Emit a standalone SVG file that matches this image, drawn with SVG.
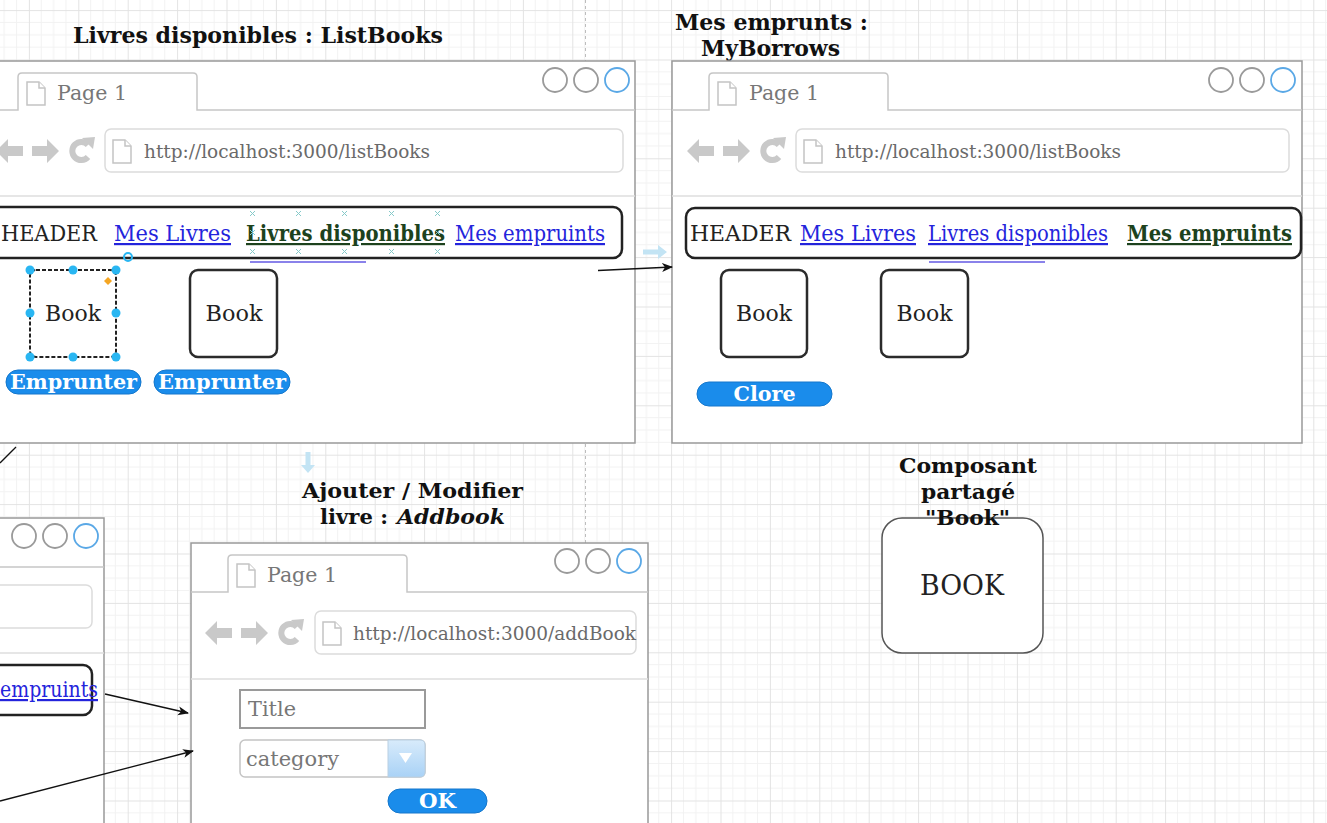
<svg xmlns="http://www.w3.org/2000/svg" xmlns:xlink="http://www.w3.org/1999/xlink" width="1327" height="823" viewBox="0 0 1327 823">
<style>
text{font-family:"DejaVu Serif","Liberation Serif",serif;}
.win{fill:#fff;stroke:#999;stroke-width:1.5;}
.tab{fill:none;stroke:#c6c6c6;stroke-width:1.5;}
.sep{stroke:#dedede;stroke-width:1.5;}
.urlbox{fill:#fff;stroke:#dcdcdc;stroke-width:1.5;}
.doc{fill:#fff;stroke:#c4c4c4;stroke-width:1.5;}
.c{fill:#fff;stroke:#9a9a9a;stroke-width:1.8;}
.cb{fill:#fff;stroke:#5aa8e6;stroke-width:1.8;}
.nav{fill:#c9c9c9;}
.pg{font-size:21px;fill:#777;}
.url{font-size:18.5px;fill:#6a6a6a;}
.hdr{fill:none;stroke:#222;stroke-width:2.5;}
.ht{font-size:22px;fill:#222;}
.lk{font-size:22px;fill:#2424dc;text-decoration:underline;}
.lka{font-size:22px;fill:#1d421d;font-weight:bold;text-decoration:underline;}
.book{fill:#fff;stroke:#2b2b2b;stroke-width:2.5;}
.bt{font-size:23px;fill:#222;text-anchor:middle;}
.btn{fill:#1a8ceb;stroke:#1477cc;stroke-width:1;}
.btnt{font-size:21px;fill:#fff;font-weight:bold;text-anchor:middle;}
.ttl{font-size:22px;fill:#111;font-weight:bold;}
.ttc{font-size:21px;fill:#111;font-weight:bold;text-anchor:middle;}
.edge{fill:none;stroke:#111;stroke-width:1.3;}
.ghost{stroke:#8a82ea;stroke-width:2;}
.xm{stroke:#86c9c9;stroke-width:1;}
.hd{fill:#29b6f2;}
</style>
<defs>
<pattern id="grid" patternUnits="userSpaceOnUse" x="28.9" y="10.1" width="49.4" height="49.4">
<path d="M12.35,0V49.4M24.7,0V49.4M37.05,0V49.4M0,12.35H49.4M0,24.7H49.4M0,37.05H49.4" stroke="#f2f2f2" stroke-width="1" fill="none"/>
<path d="M0.5,0V49.4M0,0.5H49.4" stroke="#e3e3e3" stroke-width="1" fill="none"/>
</pattern>
<marker id="arr" markerWidth="11" markerHeight="10" refX="10" refY="5" orient="auto" markerUnits="userSpaceOnUse">
<path d="M0,0.5L11,5L0,9.5L3,5Z" fill="#111"/>
</marker>
<g id="navicons">
<path class="nav" d="M0,0L12,-12V-5H27V5H12V12Z"/>
<path class="nav" d="M63,0L51,-12V-5H36V5H51V12Z"/>
<path d="M92,6A9,9 0 1 1 92,-6" fill="none" stroke="#c9c9c9" stroke-width="6"/>
<path class="nav" d="M86,-13L99,-14L97,-2Z"/>
</g>
<g id="docicon">
<path class="doc" d="M0,0H12L18,6V23H0Z"/>
<path class="doc" d="M12,0V6H18"/>
</g>
<linearGradient id="dd" x1="0" y1="0" x2="0" y2="1">
<stop offset="0" stop-color="#d8ebfb"/>
<stop offset="1" stop-color="#a9d2f6"/>
</linearGradient>
</defs>

<rect x="0" y="0" width="1327" height="823" fill="#fff"/>
<rect x="0" y="0" width="1327" height="823" fill="url(#grid)"/>
<line x1="585.5" y1="0" x2="585.5" y2="823" stroke="#bdbdbd" stroke-width="1" stroke-dasharray="3,3"/>

<!-- ListBooks -->
<g id="listbooks">
<text class="ttl" x="73" y="43" textLength="370" lengthAdjust="spacingAndGlyphs">Livres disponibles : ListBooks</text>
<rect class="win" x="-19" y="61" width="654" height="382"/>
<path class="tab" d="M-19,110H18V77Q18,73 22,73H193Q197,73 197,77V110H635"/>
<use xlink:href="#docicon" x="27" y="82"/>
<text class="pg" x="57" y="100" textLength="70" lengthAdjust="spacingAndGlyphs">Page 1</text>
<circle class="c" cx="555" cy="80" r="12"/>
<circle class="c" cx="586" cy="80" r="12"/>
<circle class="cb" cx="617" cy="80" r="12"/>
<use xlink:href="#navicons" transform="translate(-4,151)"/>
<rect class="urlbox" x="105" y="129" width="518" height="43" rx="6"/>
<use xlink:href="#docicon" x="113" y="140"/>
<text class="url" x="144" y="158" textLength="286" lengthAdjust="spacingAndGlyphs">http://localhost:3000/listBooks</text>
<line class="sep" x1="-19" y1="196" x2="635" y2="196"/>
<rect class="hdr" x="-12" y="207" width="634" height="51" rx="9"/>
<text class="ht" x="1" y="241" textLength="96" lengthAdjust="spacingAndGlyphs">HEADER</text>
<text class="lk" x="114" y="241" textLength="117" lengthAdjust="spacingAndGlyphs">Mes Livres</text>
<text class="lka" x="246" y="241" textLength="199" lengthAdjust="spacingAndGlyphs">Livres disponibles</text>
<text class="lk" x="455" y="241" textLength="150" lengthAdjust="spacingAndGlyphs">Mes empruints</text>
<line class="ghost" x1="250" y1="262" x2="366" y2="262"/>
<path class="xm" d="M250,211l5,5m0,-5l-5,5M296,211l5,5m0,-5l-5,5M342,211l5,5m0,-5l-5,5M389,211l5,5m0,-5l-5,5M435,211l5,5m0,-5l-5,5M250,249l5,5m0,-5l-5,5M296,249l5,5m0,-5l-5,5M342,249l5,5m0,-5l-5,5M389,249l5,5m0,-5l-5,5M435,249l5,5m0,-5l-5,5M250,230l5,5m0,-5l-5,5M435,230l5,5m0,-5l-5,5"/>
<rect x="30" y="270" width="86" height="87" rx="6" fill="#fff" stroke="#222" stroke-width="2" stroke-dasharray="4,2"/>
<text class="bt" x="73" y="321" textLength="56" lengthAdjust="spacingAndGlyphs">Book</text>
<circle class="hd" cx="30" cy="270" r="4.5"/><circle class="hd" cx="73" cy="270" r="4.5"/><circle class="hd" cx="116" cy="270" r="4.5"/>
<circle class="hd" cx="30" cy="313" r="4.5"/><circle class="hd" cx="116" cy="313" r="4.5"/>
<circle class="hd" cx="30" cy="357" r="4.5"/><circle class="hd" cx="73" cy="357" r="4.5"/><circle class="hd" cx="116" cy="357" r="4.5"/>
<path d="M108,277L112,281L108,285L104,281Z" fill="#f5a623"/>
<circle cx="128" cy="257" r="4" fill="none" stroke="#29b6f2" stroke-width="2"/>
<rect class="book" x="190" y="270" width="87" height="87" rx="8"/>
<text class="bt" x="234" y="321" textLength="57" lengthAdjust="spacingAndGlyphs">Book</text>
<rect class="btn" x="6" y="370" width="135" height="24" rx="12"/>
<text class="btnt" x="73.5" y="389" textLength="127" lengthAdjust="spacingAndGlyphs">Emprunter</text>
<rect class="btn" x="154" y="370" width="136" height="24" rx="12"/>
<text class="btnt" x="222" y="389" textLength="128" lengthAdjust="spacingAndGlyphs">Emprunter</text>
</g>

<!-- MyBorrows -->
<g id="myborrows">
<text class="ttl" x="675" y="30" textLength="193" lengthAdjust="spacingAndGlyphs">Mes emprunts :</text>
<text class="ttl" x="701" y="56" textLength="139" lengthAdjust="spacingAndGlyphs">MyBorrows</text>
<rect class="win" x="672" y="61" width="630" height="382"/>
<path class="tab" d="M672,110H709V77Q709,73 713,73H884Q888,73 888,77V110H1302"/>
<use xlink:href="#docicon" x="718" y="82"/>
<text class="pg" x="749" y="100" textLength="70" lengthAdjust="spacingAndGlyphs">Page 1</text>
<circle class="c" cx="1221" cy="80" r="12"/>
<circle class="c" cx="1252" cy="80" r="12"/>
<circle class="cb" cx="1283" cy="80" r="12"/>
<use xlink:href="#navicons" transform="translate(687,151)"/>
<rect class="urlbox" x="796" y="129" width="493" height="43" rx="6"/>
<use xlink:href="#docicon" x="804" y="140"/>
<text class="url" x="835" y="158" textLength="286" lengthAdjust="spacingAndGlyphs">http://localhost:3000/listBooks</text>
<line class="sep" x1="672" y1="196" x2="1302" y2="196"/>
<rect class="hdr" x="686" y="208" width="615" height="50" rx="9"/>
<text class="ht" x="690" y="241" textLength="101" lengthAdjust="spacingAndGlyphs">HEADER</text>
<text class="lk" x="800" y="241" textLength="116" lengthAdjust="spacingAndGlyphs">Mes Livres</text>
<text class="lk" x="928" y="241" textLength="180" lengthAdjust="spacingAndGlyphs">Livres disponibles</text>
<text class="lka" x="1127" y="241" textLength="165" lengthAdjust="spacingAndGlyphs">Mes empruints</text>
<line class="ghost" x1="929" y1="262" x2="1045" y2="262"/>
<rect class="book" x="721" y="270" width="86" height="87" rx="8"/>
<text class="bt" x="764" y="321" textLength="56" lengthAdjust="spacingAndGlyphs">Book</text>
<rect class="book" x="881" y="270" width="87" height="87" rx="8"/>
<text class="bt" x="924.5" y="321" textLength="56" lengthAdjust="spacingAndGlyphs">Book</text>
<rect class="btn" x="697" y="382" width="135" height="24" rx="12"/>
<text class="btnt" x="764.5" y="401" textLength="62" lengthAdjust="spacingAndGlyphs">Clore</text>
</g>

<!-- Partial browser bottom-left -->
<g id="leftbrowser">
<rect class="win" x="-10" y="518" width="114" height="320"/>
<line class="tab" x1="-10" y1="567" x2="104" y2="567"/>
<circle class="c" cx="24" cy="536" r="12"/>
<circle class="c" cx="55" cy="536" r="12"/>
<circle class="cb" cx="86" cy="536" r="12"/>
<rect class="urlbox" x="-20" y="585" width="112" height="43" rx="6"/>
<line class="sep" x1="-10" y1="653" x2="104" y2="653"/>
<rect class="hdr" x="-20" y="665" width="112" height="50" rx="9"/>
<text class="lk" x="0" y="697" textLength="98" lengthAdjust="spacingAndGlyphs">empruints</text>
</g>

<!-- AddBook -->
<g id="addbook">
<text class="ttc" x="412.5" y="498" textLength="221" lengthAdjust="spacingAndGlyphs">Ajouter / Modifier</text>
<text class="ttl" x="320" y="524" textLength="68" lengthAdjust="spacingAndGlyphs" style="font-size:21px">livre :</text>
<text class="ttl" x="397" y="524" textLength="108" lengthAdjust="spacingAndGlyphs" style="font-size:21px;font-style:italic">Addbook</text>
<rect class="win" x="191" y="543" width="457" height="300"/>
<path class="tab" d="M191,592H228V559Q228,555 232,555H403Q407,555 407,559V592H648"/>
<use xlink:href="#docicon" x="237" y="564"/>
<text class="pg" x="267" y="582" textLength="70" lengthAdjust="spacingAndGlyphs">Page 1</text>
<circle class="c" cx="567" cy="561" r="12"/>
<circle class="c" cx="598" cy="561" r="12"/>
<circle class="cb" cx="629" cy="561" r="12"/>
<use xlink:href="#navicons" transform="translate(205,633)"/>
<rect class="urlbox" x="315" y="611" width="321" height="43" rx="6"/>
<use xlink:href="#docicon" x="323" y="622"/>
<text class="url" x="353" y="640" textLength="283" lengthAdjust="spacingAndGlyphs">http://localhost:3000/addBook</text>
<line class="sep" x1="191" y1="679" x2="648" y2="679"/>
<rect x="240" y="690" width="185" height="38" fill="#fff" stroke="#9a9a9a" stroke-width="2"/>
<text class="pg" x="248" y="716" textLength="48" lengthAdjust="spacingAndGlyphs">Title</text>
<rect x="240" y="740" width="185" height="37" rx="5" fill="#fff" stroke="#c4c4c4" stroke-width="1.5"/>
<path d="M388,740H420Q425,740 425,745V772Q425,777 420,777H388Z" fill="url(#dd)" stroke="#b9cfe2" stroke-width="1"/>
<path d="M399,753H412L405.5,763Z" fill="#fff"/>
<text class="pg" x="246" y="766" textLength="93" lengthAdjust="spacingAndGlyphs">category</text>
<rect class="btn" x="388" y="789" width="99" height="24" rx="12"/>
<text class="btnt" x="437.5" y="808" textLength="37" lengthAdjust="spacingAndGlyphs">OK</text>
</g>

<!-- Shared component -->
<g id="bookcomponent">
<rect x="882" y="518" width="161" height="135" rx="20" fill="#fff" stroke="#555" stroke-width="1.5"/>
<text class="ttc" x="968" y="473" textLength="138" lengthAdjust="spacingAndGlyphs">Composant</text>
<text class="ttc" x="968" y="499" textLength="94" lengthAdjust="spacingAndGlyphs">partagé</text>
<text class="ttc" x="967.5" y="525" textLength="85" lengthAdjust="spacingAndGlyphs">"Book"</text>
<text x="962" y="595" text-anchor="middle" font-size="28" fill="#222" textLength="84" lengthAdjust="spacingAndGlyphs">BOOK</text>
</g>

<!-- Connectors -->
<g id="connectors">
<line class="edge" x1="598" y1="270.5" x2="672" y2="267" marker-end="url(#arr)"/>
<line class="edge" x1="105" y1="694" x2="188" y2="713" marker-end="url(#arr)"/>
<line class="edge" x1="0" y1="801" x2="193" y2="751" marker-end="url(#arr)"/>
<line class="edge" x1="0" y1="463" x2="16" y2="447"/>
<path d="M643,249.5H658V245L667,252L658,259V254.5H643Z" fill="#c3e4f4"/>
<path d="M305.5,452V465H301L308,473L315,465H310.5V452Z" fill="#c3e4f4"/>
</g>
</svg>
